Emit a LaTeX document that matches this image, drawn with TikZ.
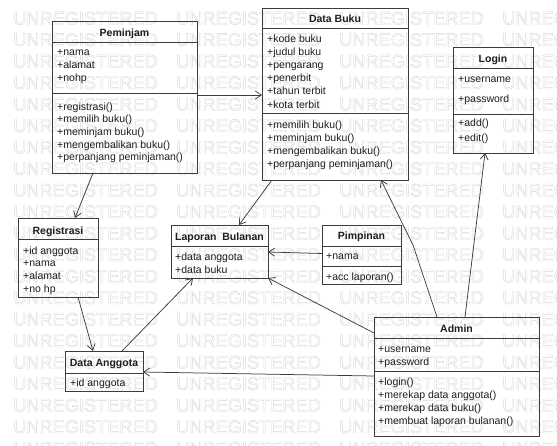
\documentclass[tikz,border=0pt]{standalone}
\usepackage{fontspec}
\setmainfont{Liberation Sans}
\usetikzlibrary{arrows.meta,calc}
\definecolor{bd}{HTML}{3C3C3C}
\definecolor{tx}{HTML}{1E1E1E}
\definecolor{wm}{HTML}{D9D9D9}
\newcommand\outlinetext[1]{\special{pdf:literal direct 1 Tr 0.45 w}#1\special{pdf:literal direct 0 Tr}}
\begin{document}
\begin{tikzpicture}[x=1pt,y=-1pt,
 cls/.style={draw=bd, line width=1pt, rectangle, inner sep=0pt, outer sep=0pt},
 div/.style={draw=bd, line width=0.9pt},
 ttl/.style={anchor=base, inner sep=0pt, font=\fontsize{10.5}{12}\selectfont\bfseries, text=tx},
 itm/.style={anchor=base west, inner sep=0pt, font=\fontsize{10.5}{12}\selectfont, text=tx},
 conn/.style={draw=bd, line width=0.75pt, -{Straight Barb[length=6pt,width=8pt]}},
 wmark/.style={anchor=base west, inner sep=0pt, font=\fontsize{18.2}{20}\selectfont, text=wm}]
\fill[white] (0,0) rectangle (557,445);
\useasboundingbox (0,0) rectangle (557,445);
% watermark
\foreach \r in {0,...,20} {
  \foreach \c in {0,...,3} {
    \node[wmark] (wm-\r-\c) at ({13+163*\c},{24.5+21.5*\r}) {\outlinetext{UNREGISTERED}};
  }
}
% class boxes
\node[cls, minimum width=145pt, minimum height=152pt] (pem) at (124.5,97) {};
\node[cls, minimum width=146pt, minimum height=172pt] (buku) at (335,94) {};
\node[cls, minimum width=80pt, minimum height=106pt] (login) at (493,100) {};
\node[cls, minimum width=80pt, minimum height=79pt] (reg) at (58,257.5) {};
\node[cls, minimum width=97pt, minimum height=53pt] (lap) at (219.5,251.5) {};
\node[cls, minimum width=79pt, minimum height=59pt] (pim) at (361.5,254.5) {};
\node[cls, minimum width=165pt, minimum height=119pt] (admin) at (456.5,376.5) {};
\node[cls, minimum width=78pt, minimum height=40pt] (ang) at (104,371) {};
% dividers
\draw[div] (pem.west |- 0,42) -- (pem.east |- 0,42);
\draw[div] (pem.west |- 0,93) -- (pem.east |- 0,93);
\draw[div] (buku.west |- 0,28) -- (buku.east |- 0,28);
\draw[div] (buku.west |- 0,113) -- (buku.east |- 0,113);
\draw[div] (login.west |- 0,68) -- (login.east |- 0,68);
\draw[div] (login.west |- 0,114) -- (login.east |- 0,114);
\draw[div] (reg.west |- 0,239) -- (reg.east |- 0,239);
\draw[div] (lap.west |- 0,246) -- (lap.east |- 0,246);
\draw[div] (pim.west |- 0,246) -- (pim.east |- 0,246);
\draw[div] (pim.west |- 0,266) -- (pim.east |- 0,266);
\draw[div] (admin.west |- 0,338) -- (admin.east |- 0,338);
\draw[div] (admin.west |- 0,371) -- (admin.east |- 0,371);
\draw[div] (ang.west |- 0,373) -- (ang.east |- 0,373);
% Peminjam
\node[ttl] (pem-t) at (124.5,36) {Peminjam};
\node[itm] (pem-a1) at (57,55.7) {+nama};
\node[itm] (pem-a2) at (57,68.5) {+alamat};
\node[itm] (pem-a3) at (57,81.3) {+nohp};
\node[itm] (pem-m1) at (57,110) {+registrasi()};
\node[itm] (pem-m2) at (57,122.6) {+memilih buku()};
\node[itm] (pem-m3) at (57,135.2) {+meminjam buku()};
\node[itm] (pem-m4) at (57,148) {+mengembalikan buku()};
\node[itm] (pem-m5) at (57,160.8) {+perpanjang peminjaman()};
% Data Buku
\node[ttl] (buku-t) at (335,22) {Data Buku};
\node[itm] (buku-a1) at (267,42.3) {+kode buku};
\node[itm] (buku-a2) at (267,55.5) {+judul buku};
\node[itm] (buku-a3) at (267,68.5) {+pengarang};
\node[itm] (buku-a4) at (267,81.7) {+penerbit};
\node[itm] (buku-a5) at (267,94.8) {+tahun terbit};
\node[itm] (buku-a6) at (267,108) {+kota terbit};
\node[itm] (buku-m1) at (267,128) {+memilih buku()};
\node[itm] (buku-m2) at (267,141) {+meminjam buku()};
\node[itm] (buku-m3) at (267,154) {+mengembalikan buku()};
\node[itm] (buku-m4) at (267,167.3) {+perpanjang peminjaman()};
% Login
\node[ttl] (login-t) at (493,62) {Login};
\node[itm] (login-a1) at (458,82) {+username};
\node[itm] (login-a2) at (458,102) {+password};
\node[itm] (login-m1) at (458,126) {+add()};
\node[itm] (login-m2) at (458,141) {+edit()};
% Registrasi
\node[ttl] (reg-t) at (58,234) {Registrasi};
\node[itm] (reg-a1) at (23,254) {+id anggota};
\node[itm] (reg-a2) at (23,266) {+nama};
\node[itm] (reg-a3) at (23,279) {+alamat};
\node[itm] (reg-a4) at (23,292.3) {+no hp};
% Laporan Bulanan
\node[ttl] (lap-t) at (219.5,240) {Laporan\ \ Bulanan};
\node[itm] (lap-a1) at (175,260) {+data anggota};
\node[itm] (lap-a2) at (175,273) {+data buku};
% Pimpinan
\node[ttl] (pim-t) at (361.5,239) {Pimpinan};
\node[itm] (pim-a1) at (326,259) {+nama};
\node[itm] (pim-m1) at (326,280) {+acc laporan()};
% Admin
\node[ttl] (admin-t) at (456.5,332) {Admin};
\node[itm] (admin-a1) at (378,352) {+username};
\node[itm] (admin-a2) at (378,365) {+password};
\node[itm] (admin-m1) at (378,385) {+login()};
\node[itm] (admin-m2) at (378,398.3) {+merekap data anggota()};
\node[itm] (admin-m3) at (378,411.5) {+merekap data buku()};
\node[itm] (admin-m4) at (378,424.8) {+membuat laporan bulanan()};
% Data Anggota
\node[ttl] (ang-t) at (104,366) {Data Anggota};
\node[itm] (ang-a1) at (70,386) {+id anggota};
% connectors
\coordinate (bend1) at (413,245);
\draw[conn] (pem.east |- 0,95) -- (buku.west |- 0,95);
\draw[conn] ([xshift=-31.5pt]pem.south) -- ([xshift=17pt]reg.north);
\draw[conn] ([xshift=-63pt]buku.south) -- ([xshift=19.5pt]lap.north);
\draw[conn] (pim.west |- 0,253.5) -- (lap.east |- 0,252);
\draw[conn] (admin.west |- 0,333) -- (lap.south east);
\draw[conn] ([xshift=-19.5pt]admin.north) -- (bend1) -- ([xshift=46pt]buku.south);
\draw[conn] ([xshift=8.5pt]admin.north) -- ([xshift=-8pt]login.south);
\draw[conn] (admin.west |- 0,376) -- (ang.east |- 0,372);
\draw[conn] ([xshift=20pt]reg.south) -- ([xshift=-11pt]ang.north);
\draw[conn] ([xshift=18pt]ang.north) -- ([xshift=-26.5pt]lap.south);
\end{tikzpicture}
\end{document}
